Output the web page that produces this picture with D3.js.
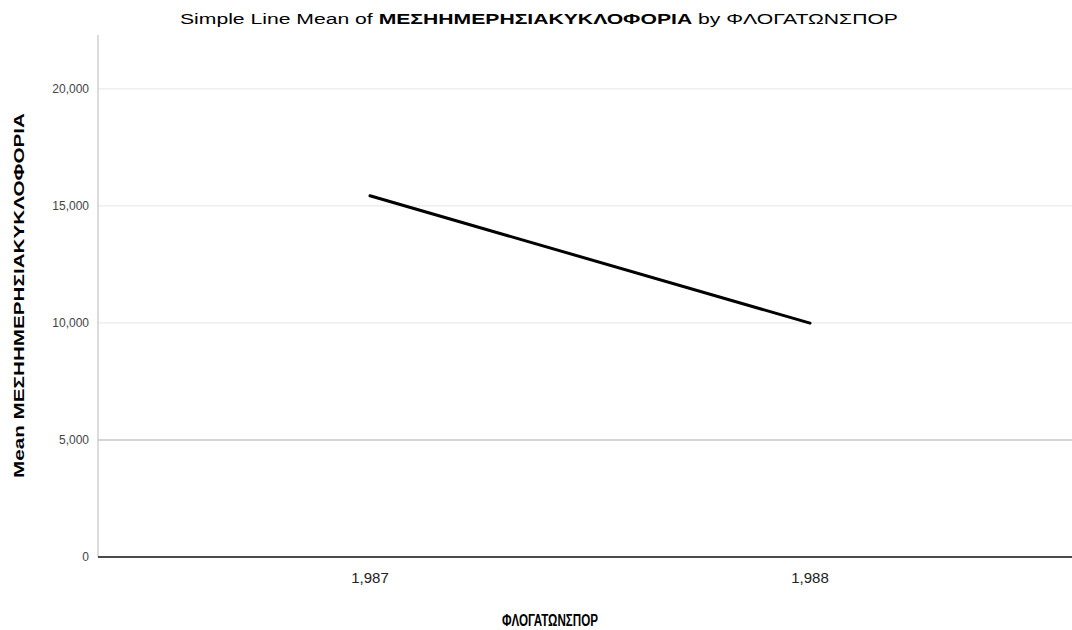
<!DOCTYPE html>
<html><head><meta charset="utf-8">
<script src="https://cdn.jsdelivr.net/npm/d3@7"></script>
<style>body{margin:0;background:#fff}svg{display:block;font-family:"Liberation Sans",Arial,sans-serif}</style>
</head><body>
<svg id="c" width="1072" height="630"></svg>
<script>
const categories = ["1987", "1988"];
const categoryLabels = ["1,987", "1,988"];
const meanValues = [15430, 9990];
const yTicks = [0, 5000, 10000, 15000, 20000];
const yTickLabels = ["0", "5,000", "10,000", "15,000", "20,000"];

(function () {
const svg = d3.select("#c");
const mLeft = 98, mRight = 1072, mTop = 35, mBottom = 557;

const y = d3.scaleLinear().domain([0, 22300]).range([mBottom, mTop]);
const x = d3.scalePoint().domain(categories).range([mLeft, 1082]).padding(0.618);

// gridlines
svg.append("g").selectAll("line").data(yTicks.filter(d => d > 0)).join("line")
  .attr("x1", mLeft).attr("x2", mRight)
  .attr("y1", d => y(d)).attr("y2", d => y(d))
  .attr("stroke", d => d === 5000 ? "#c8c8c8" : "#ebebeb")
  .attr("stroke-width", d => d === 5000 ? 1.6 : 1.2);

// y axis line
svg.append("line").attr("x1", mLeft).attr("x2", mLeft).attr("y1", mTop).attr("y2", mBottom)
  .attr("stroke", "#c4c4c4").attr("stroke-width", 1.2);

// y tick labels
svg.append("g").selectAll("text").data(yTicks).join("text")
  .attr("x", 89).attr("y", d => y(d)).attr("dy", "0.36em")
  .attr("text-anchor", "end").attr("font-size", 12).attr("fill", "#444")
  .text((d, i) => yTickLabels[i]);

// baseline
svg.append("line").attr("x1", mLeft).attr("x2", mRight).attr("y1", y(0)).attr("y2", y(0))
  .attr("stroke", "#4a4a4a").attr("stroke-width", 2);

// x tick labels
svg.append("g").selectAll("text").data(categories).join("text")
  .attr("x", d => x(d)).attr("y", 583)
  .attr("text-anchor", "middle").attr("font-size", 15).attr("fill", "#222")
  .text((d, i) => categoryLabels[i]);

// line
const line = d3.line().x((d, i) => x(categories[i])).y(d => y(d));
svg.append("path").datum(meanValues).attr("d", line)
  .attr("fill", "none").attr("stroke", "#000").attr("stroke-width", 3).attr("stroke-linecap", "round");

// title
const t = svg.append("text").attr("x", 180).attr("y", 24).attr("text-anchor", "start")
  .attr("font-size", 14).attr("fill", "#000")
  .attr("textLength", 718).attr("lengthAdjust", "spacingAndGlyphs");
t.append("tspan").text("Simple Line Mean of ");
t.append("tspan").attr("font-weight", "bold").text("ΜΕΣΗΗΜΕΡΗΣΙΑΚΥΚΛΟΦΟΡΙΑ");
t.append("tspan").text(" by ΦΛΟΓΑΤΩΝΣΠΟΡ");

// x axis title
svg.append("text").attr("x", 502).attr("y", 626).attr("text-anchor", "start")
  .attr("font-size", 16).attr("font-weight", "bold").attr("fill", "#000")
  .attr("textLength", 96).attr("lengthAdjust", "spacingAndGlyphs").text("ΦΛΟΓΑΤΩΝΣΠΟΡ");

// y axis title
svg.append("text").attr("transform", "translate(24,478) rotate(-90)").attr("text-anchor", "start")
  .attr("font-size", 14).attr("font-weight", "bold").attr("fill", "#000")
  .attr("textLength", 365).attr("lengthAdjust", "spacingAndGlyphs").text("Mean ΜΕΣΗΗΜΕΡΗΣΙΑΚΥΚΛΟΦΟΡΙΑ");
})();
</script>
</body></html>
